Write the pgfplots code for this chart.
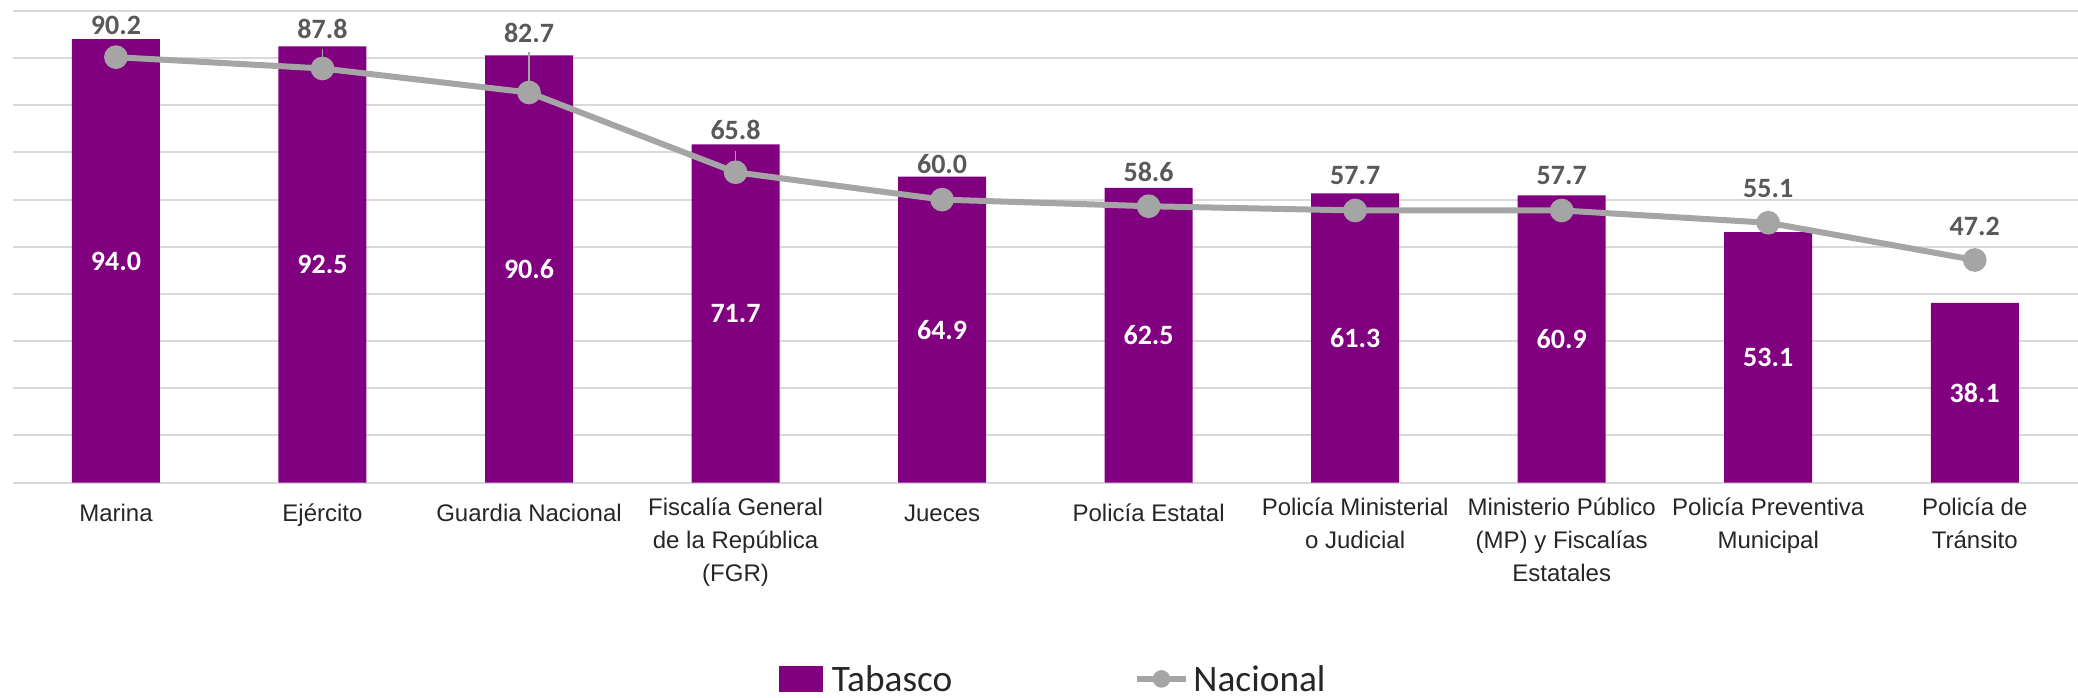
\documentclass[border=0pt]{standalone}
\usepackage{fontspec}
\setmainfont{Liberation Sans}
\newfontfamily\carlito{Carlito}
\usepackage{pgfplots}
\usepackage{pgfplotstable}
\pgfplotsset{compat=1.18}
\definecolor{tabasco}{RGB}{128,0,128}
\definecolor{nacional}{RGB}{165,165,165}
\definecolor{gridgray}{RGB}{217,217,217}
\definecolor{labelgray}{RGB}{89,89,89}
\definecolor{ticktext}{RGB}{38,38,38}

% x, Tabasco, Nacional, middle of bar, height of the Nacional label
\pgfplotstableread{
x tab  nac  mid   lab
0 94.0 90.2 47.00 97.0
1 92.5 87.8 46.25 96.1
2 90.6 82.7 45.30 95.3
3 71.7 65.8 35.85 74.8
4 64.9 60.0 32.45 67.6
5 62.5 58.6 31.25 65.9
6 61.3 57.7 30.65 65.2
7 60.9 57.7 30.45 65.2
8 53.1 55.1 26.55 62.4
9 38.1 47.2 19.05 54.4
}\datos

\begin{document}
\begin{tikzpicture}
\useasboundingbox (-4.76pt,-80.7pt) rectangle (774.5pt,181pt);
\begin{axis}[
  at={(0pt,0pt)}, anchor=south west,
  scale only axis, width=774.5pt, height=176.9pt,
  xmin=-0.5, xmax=9.5, ymin=0, ymax=100,
  axis line style={draw=none},
  major tick length=0pt,
  ytick={0,10,...,100}, yticklabels={},
  ymajorgrids, grid style={gridgray, line width=0.75pt},
  xtick={0,...,9},
  xticklabels={Marina, Ejército, Guardia Nacional,
    {Fiscalía General\\de la República\\(FGR)}, Jueces, Policía Estatal,
    {Policía Ministerial\\o Judicial},
    {Ministerio Público\\(MP) y Fiscalías\\Estatales},
    {Policía Preventiva\\Municipal}, {Policía de\\Tránsito}},
  xticklabel style={align=center, anchor=north, yshift=-5.6pt, inner sep=0pt,
    text=ticktext, font=\fontsize{9}{12.3}\selectfont,
    execute at begin node={\strut}},
  /pgf/number format/assume math mode=true,
  clip=false,
]
\addplot[ybar, bar width=33pt, fill=tabasco, draw=none] table[x=x, y=tab]{\datos};
\addplot[nacional, line width=2.25pt, mark=*, mark size=3.3pt,
  mark options={fill=nacional, draw=nacional}] table[x=x, y=nac]{\datos};

% leader lines of the moved labels
\draw[nacional, line width=0.4pt] (axis cs:1,91.9) -- (axis cs:1,87.8);
\draw[nacional, line width=0.4pt] (axis cs:2,91.3) -- (axis cs:2,82.7);
\draw[nacional, line width=0.4pt] (axis cs:3,70.4) -- (axis cs:3,65.8);

% value labels
\addplot[draw=none, mark=none, point meta=explicit,
  nodes near coords, nodes near coords style={anchor=center, text=white,
    font=\carlito\bfseries\fontsize{10.5}{12}\selectfont,
    /pgf/number format/.cd, fixed, fixed zerofill, precision=1}]
  table[x=x, y=mid, meta=tab]{\datos};
\addplot[draw=none, mark=none, point meta=explicit,
  nodes near coords, nodes near coords style={anchor=center, text=labelgray,
    font=\carlito\bfseries\fontsize{10.5}{12}\selectfont,
    /pgf/number format/.cd, fixed, fixed zerofill, precision=1}]
  table[x=x, y=lab, meta=nac]{\datos};
\end{axis}

% legend
\fill[tabasco] (287.2pt,-78.6pt) rectangle (303.7pt,-68.6pt);
\node[anchor=west, inner sep=0pt, text=ticktext, font=\carlito\fontsize{14}{16}\selectfont]
  at (307pt,-73.6pt) {Tabasco};
\draw[nacional, line width=2.25pt] (421.6pt,-73.6pt) -- (440pt,-73.6pt);
\fill[nacional] (430.8pt,-73.6pt) circle (3.3pt);
\node[anchor=west, inner sep=0pt, text=ticktext, font=\carlito\fontsize{14}{16}\selectfont]
  at (442.6pt,-73.6pt) {Nacional};
\end{tikzpicture}
\end{document}
